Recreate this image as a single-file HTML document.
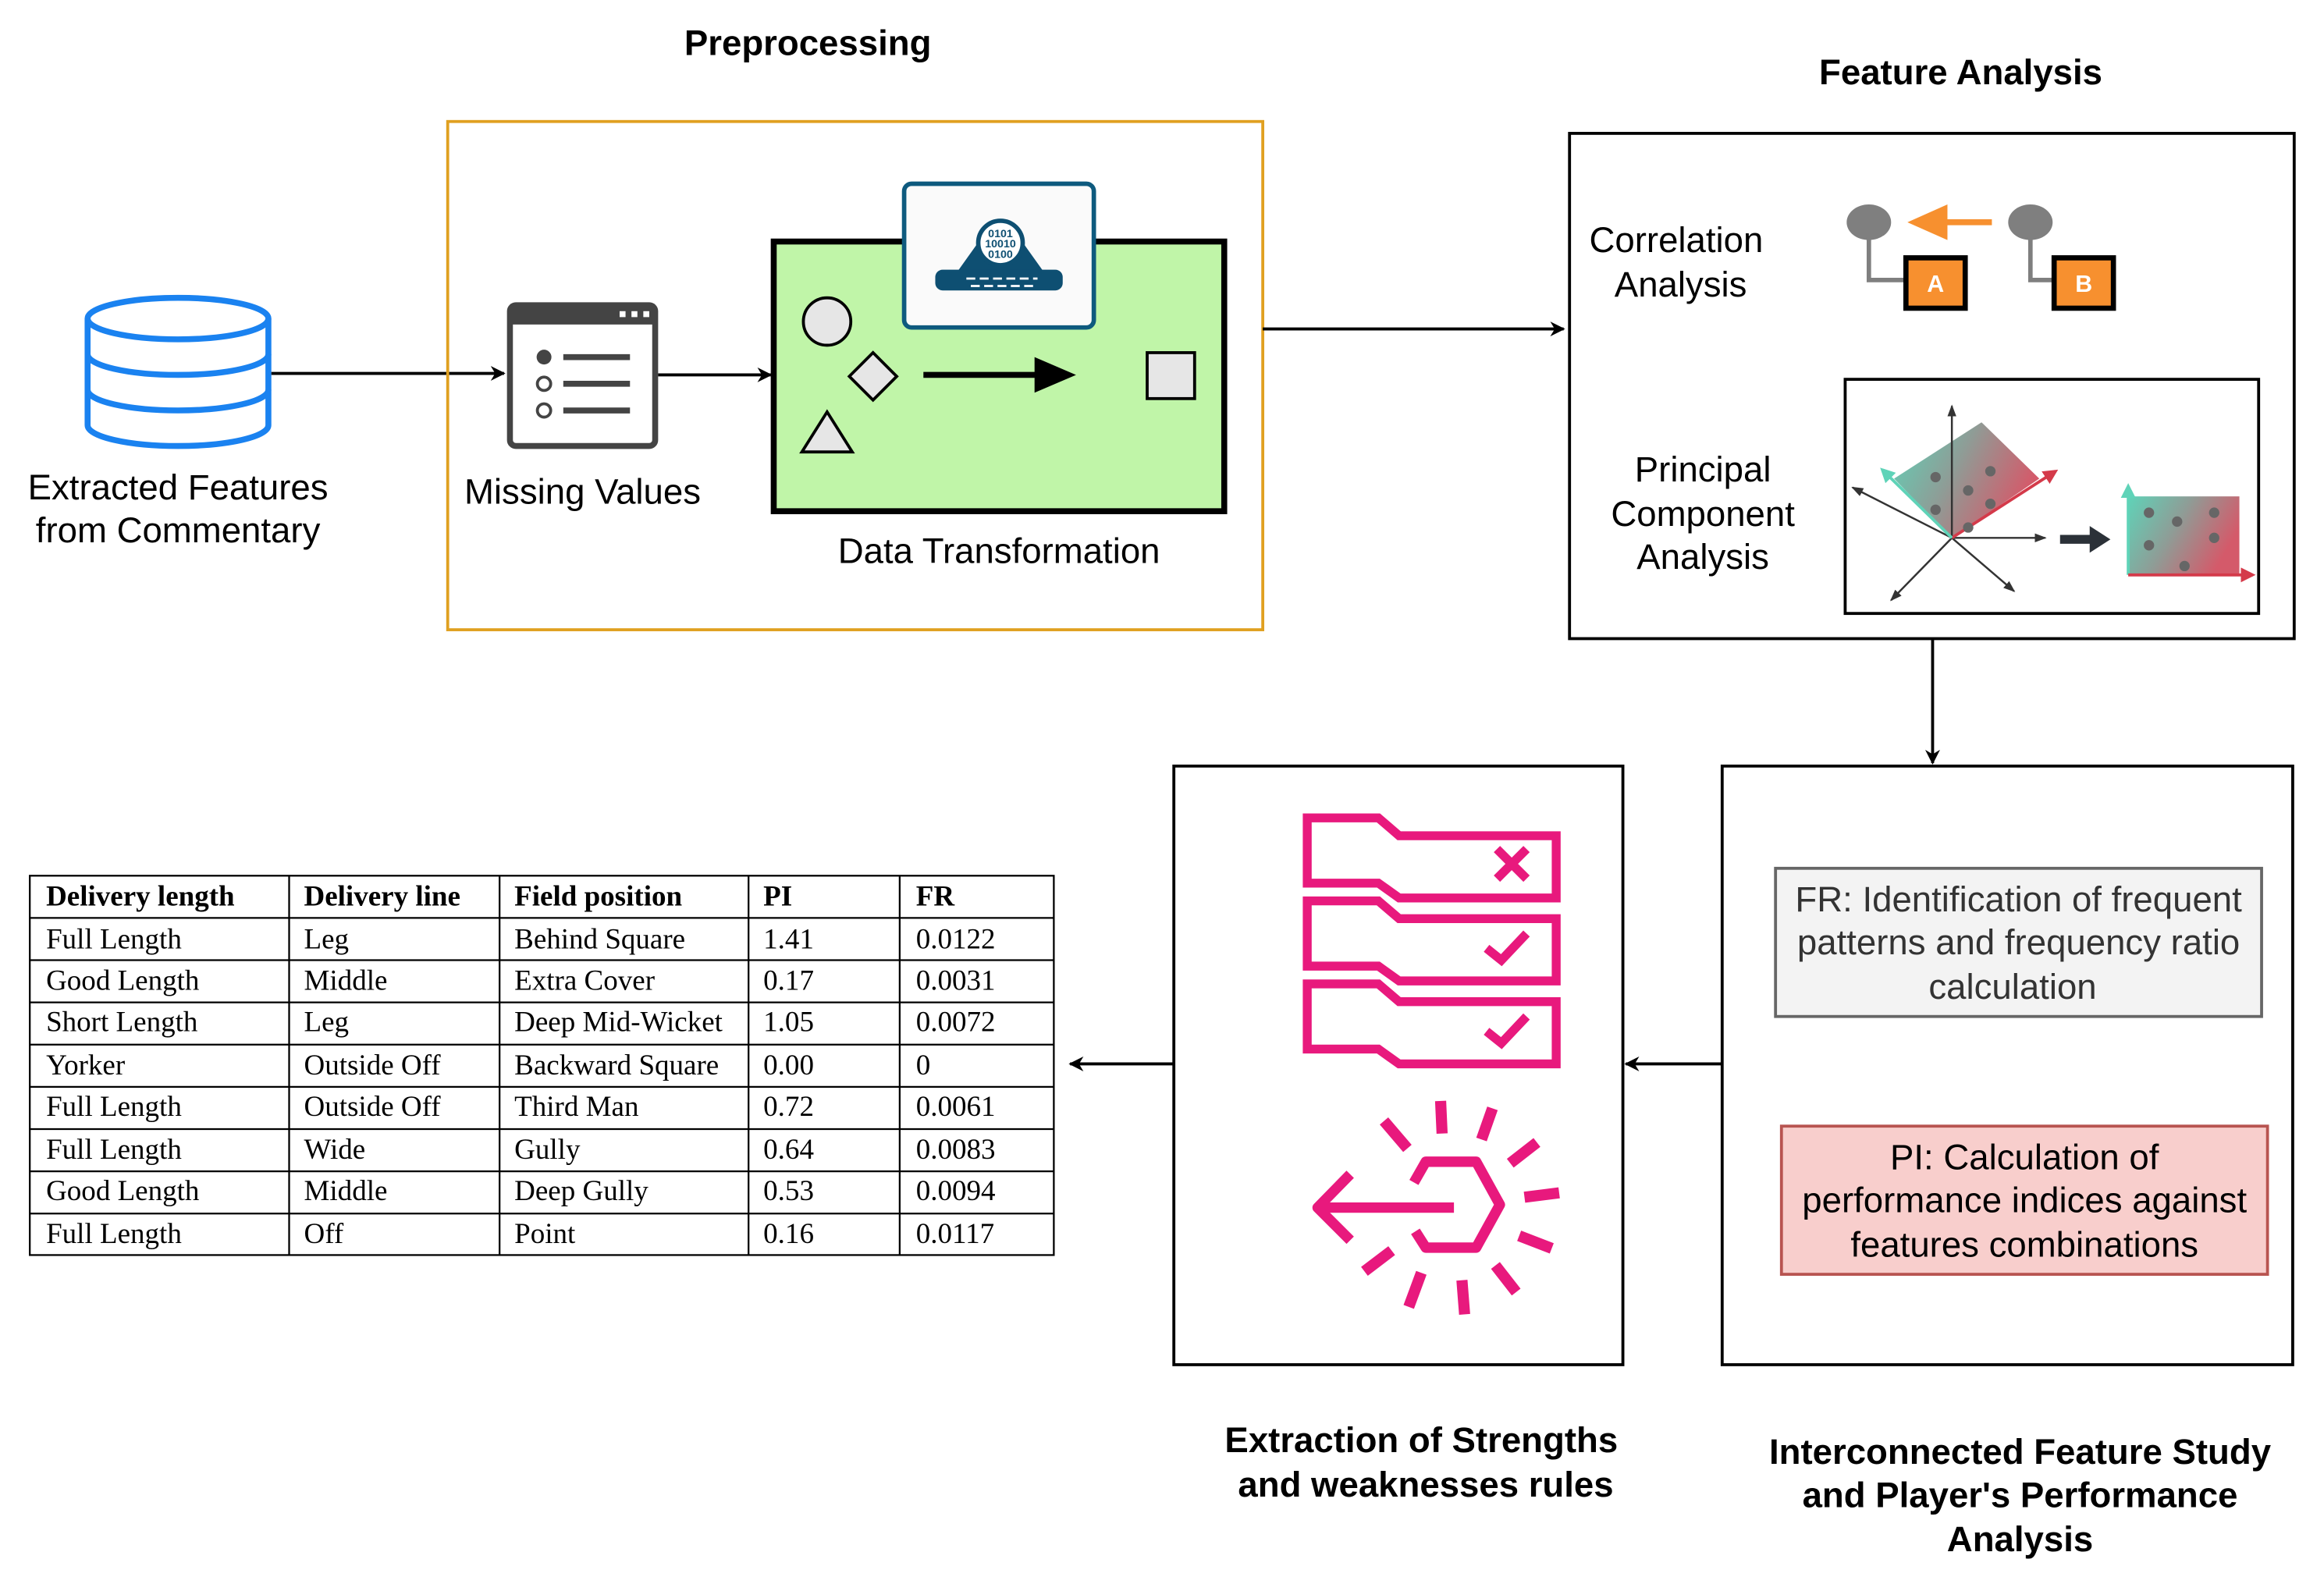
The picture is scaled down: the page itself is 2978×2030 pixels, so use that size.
<!DOCTYPE html>
<html><head><meta charset="utf-8"><style>
html,body{margin:0;padding:0;background:#fff;}
svg{display:block;}
.s{font-family:"Liberation Sans",sans-serif;}
.r{font-family:"Liberation Serif",serif;font-size:19.5px;}
.b{font-weight:bold;}
</style></head><body>
<svg width="2978" height="2030" viewBox="0 0 1568 1069" xmlns="http://www.w3.org/2000/svg">
<defs>
<marker id="ar" markerWidth="10" markerHeight="10" refX="9" refY="5" orient="auto" markerUnits="userSpaceOnUse"><path d="M0,0 L10,5 L0,10 L3,5 Z" fill="#000"/></marker>
<marker id="sa" markerWidth="8" markerHeight="8" refX="7" refY="4" orient="auto" markerUnits="userSpaceOnUse"><path d="M0,1 L8,4 L0,7 Z" fill="#333"/></marker>
<marker id="ga" markerWidth="10" markerHeight="10" refX="8" refY="5" orient="auto" markerUnits="userSpaceOnUse"><path d="M0,0 L10,5 L0,10 Z" fill="#5fd3b8"/></marker>
<marker id="ra" markerWidth="10" markerHeight="10" refX="8" refY="5" orient="auto" markerUnits="userSpaceOnUse"><path d="M0,0 L10,5 L0,10 Z" fill="#d43a4a"/></marker>
<linearGradient id="g1" x1="0" y1="0" x2="1" y2="0.4"><stop offset="0" stop-color="#5fd3b8"/><stop offset="0.5" stop-color="#8f9c96"/><stop offset="1" stop-color="#d45a6a"/></linearGradient>
</defs>
<rect width="1568" height="1069" fill="#fff"/>

<text x="545" y="37" text-anchor="middle" class="s b" font-size="24">Preprocessing</text>
<text x="1323" y="57" text-anchor="middle" class="s b" font-size="24">Feature Analysis</text>

<g fill="none" stroke="#1a82f0" stroke-width="4">
<ellipse cx="120" cy="215" rx="61" ry="14"/>
<path d="M59,215 V287 A61,14 0 0 0 181,287 V215"/>
<path d="M59,239 A61,14 0 0 0 181,239"/>
<path d="M59,263 A61,14 0 0 0 181,263"/>
</g>
<text x="120" y="337" text-anchor="middle" class="s" font-size="24">Extracted Features</text>
<text x="120" y="366" text-anchor="middle" class="s" font-size="24">from Commentary</text>
<path d="M183,252 H340" stroke="#000" stroke-width="2" marker-end="url(#ar)"/>

<rect x="302" y="82" width="550" height="343" fill="none" stroke="#e0a020" stroke-width="2"/>
<rect x="344" y="206" width="98" height="95" rx="4" fill="#fff" stroke="#444" stroke-width="4"/>
<rect x="344" y="206" width="98" height="13" fill="#444"/>
<g fill="#fff"><rect x="418" y="210" width="4" height="4"/><rect x="426" y="210" width="4" height="4"/><rect x="434" y="210" width="4" height="4"/></g>
<circle cx="367" cy="241" r="5" fill="#444"/><circle cx="367" cy="259" r="4.5" fill="none" stroke="#444" stroke-width="2"/><circle cx="367" cy="277" r="4.5" fill="none" stroke="#444" stroke-width="2"/>
<g stroke="#444" stroke-width="4"><path d="M380,241 H425"/><path d="M380,259 H425"/><path d="M380,277 H425"/></g>
<text x="393" y="340" text-anchor="middle" class="s" font-size="24">Missing Values</text>
<path d="M444,253 H520" stroke="#000" stroke-width="2" marker-end="url(#ar)"/>

<rect x="522" y="163" width="304" height="182" fill="#c0f5a8" stroke="#000" stroke-width="4"/>
<rect x="610" y="124" width="128" height="97" rx="5" fill="#fafafa" stroke="#0e5a7e" stroke-width="3"/>
<path d="M644,186 L664,158 L686,158 L706,186 Z" fill="#0e4f72"/>
<rect x="631" y="182" width="86" height="14" rx="5" fill="#0e4f72"/>
<circle cx="675" cy="164" r="15" fill="#fff" stroke="#0e4f72" stroke-width="3"/>
<text x="675" y="160" text-anchor="middle" font-size="7.5" class="s b" fill="#0e4f72">0101</text>
<text x="675" y="167" text-anchor="middle" font-size="7.5" class="s b" fill="#0e4f72">10010</text>
<text x="675" y="174" text-anchor="middle" font-size="7.5" class="s b" fill="#0e4f72">0100</text>
<path d="M652,188 H700 M655,193 H698" stroke="#fff" stroke-width="1.5" stroke-dasharray="6,3"/>
<circle cx="558" cy="217" r="16" fill="#e6e6e6" stroke="#000" stroke-width="2"/>
<path d="M589,238 L605,254 L589,270 L573,254 Z" fill="#e6e6e6" stroke="#000" stroke-width="2"/>
<path d="M558,278 L575,305 L541,305 Z" fill="#e6e6e6" stroke="#000" stroke-width="2"/>
<path d="M623,253 H700" stroke="#000" stroke-width="4"/>
<path d="M698,241 L726,253 L698,265 Z" fill="#000"/>
<rect x="774" y="238" width="32" height="31" fill="#e6e6e6" stroke="#000" stroke-width="2"/>
<text x="674" y="380" text-anchor="middle" class="s" font-size="24">Data Transformation</text>
<path d="M852,222 H1055" stroke="#000" stroke-width="2" marker-end="url(#ar)"/>

<rect x="1059" y="90" width="489" height="341" fill="none" stroke="#000" stroke-width="2"/>
<text x="1131" y="170" text-anchor="middle" class="s" font-size="24">Correlation</text>
<text x="1134" y="200" text-anchor="middle" class="s" font-size="24">Analysis</text>
<ellipse cx="1261" cy="150" rx="15" ry="12" fill="#7f7f7f"/>
<ellipse cx="1370" cy="150" rx="15" ry="12" fill="#7f7f7f"/>
<path d="M1261,160 V189 H1288 M1370,160 V189 H1390" fill="none" stroke="#7f7f7f" stroke-width="3"/>
<path d="M1305,150 H1344" stroke="#f7902f" stroke-width="4"/>
<path d="M1287,150 L1314,138 L1314,162 Z" fill="#f7902f"/>
<rect x="1286" y="174" width="40" height="34" fill="#f7902f" stroke="#000" stroke-width="3.5"/>
<rect x="1386" y="174" width="40" height="34" fill="#f7902f" stroke="#000" stroke-width="3.5"/>
<text x="1306" y="197" text-anchor="middle" class="s b" font-size="16" fill="#fff">A</text>
<text x="1406" y="197" text-anchor="middle" class="s b" font-size="16" fill="#fff">B</text>
<text x="1149" y="325" text-anchor="middle" class="s" font-size="24">Principal</text>
<text x="1149" y="355" text-anchor="middle" class="s" font-size="24">Component</text>
<text x="1149" y="384" text-anchor="middle" class="s" font-size="24">Analysis</text>
<rect x="1245" y="256" width="279" height="158" fill="none" stroke="#000" stroke-width="2"/>
<path d="M1278,323 L1337,285 L1376,323 L1317,363 Z" fill="url(#g1)"/>
<g stroke="#333" stroke-width="1.3" fill="none">
<path d="M1317,363 V274" marker-end="url(#sa)"/>
<path d="M1317,363 H1380" marker-end="url(#sa)"/>
<path d="M1317,363 L1250,329" marker-end="url(#sa)"/>
<path d="M1317,363 L1276,405" marker-end="url(#sa)"/>
<path d="M1317,363 L1359,399" marker-end="url(#sa)"/>
</g>
<path d="M1317,363 L1387,318" stroke="#d43a4a" stroke-width="2" marker-end="url(#ra)"/>
<path d="M1317,363 L1270,317" stroke="#5fd3b8" stroke-width="2" marker-end="url(#ga)"/>
<g fill="#666"><circle cx="1306" cy="322" r="3.5"/><circle cx="1306" cy="344" r="3.5"/><circle cx="1328" cy="331" r="3.5"/><circle cx="1343" cy="318" r="3.5"/><circle cx="1343" cy="340" r="3.5"/><circle cx="1328" cy="356" r="3.5"/></g>
<path d="M1390,364 H1412" stroke="#2b3138" stroke-width="6"/>
<path d="M1410,355 L1424,364 L1410,373 Z" fill="#2b3138"/>
<rect x="1436" y="335" width="75" height="53" fill="url(#g1)"/>
<path d="M1436,388 V328" stroke="#5fd3b8" stroke-width="2" marker-end="url(#ga)"/>
<path d="M1436,388 H1520" stroke="#d43a4a" stroke-width="2" marker-end="url(#ra)"/>
<g fill="#666"><circle cx="1450" cy="346" r="3.5"/><circle cx="1469" cy="352" r="3.5"/><circle cx="1494" cy="346" r="3.5"/><circle cx="1450" cy="368" r="3.5"/><circle cx="1494" cy="363" r="3.5"/><circle cx="1474" cy="382" r="3.5"/></g>
<path d="M1304,431 V515" stroke="#000" stroke-width="2" marker-end="url(#ar)"/>

<rect x="1162" y="517" width="385" height="404" fill="none" stroke="#000" stroke-width="2"/>
<rect x="1198" y="586" width="328" height="100" fill="#f3f3f3" stroke="#666" stroke-width="2"/>
<text x="1362" y="615" text-anchor="middle" class="s" font-size="24" fill="#333">FR: Identification of frequent</text>
<text x="1362" y="644" text-anchor="middle" class="s" font-size="24" fill="#333">patterns and frequency ratio</text>
<text x="1358" y="674" text-anchor="middle" class="s" font-size="24" fill="#333">calculation</text>
<rect x="1202" y="760" width="328" height="100" fill="#f8cecc" stroke="#b85450" stroke-width="2"/>
<text x="1366" y="789" text-anchor="middle" class="s" font-size="24">PI: Calculation of</text>
<text x="1366" y="818" text-anchor="middle" class="s" font-size="24">performance indices against</text>
<text x="1366" y="848" text-anchor="middle" class="s" font-size="24">features combinations</text>
<text x="1363" y="988" text-anchor="middle" class="s b" font-size="24">Interconnected Feature Study</text>
<text x="1363" y="1017" text-anchor="middle" class="s b" font-size="24">and Player's Performance</text>
<text x="1363" y="1047" text-anchor="middle" class="s b" font-size="24">Analysis</text>
<path d="M1162,718 H1097" stroke="#000" stroke-width="2" marker-end="url(#ar)"/>

<rect x="792" y="517" width="303" height="404" fill="none" stroke="#000" stroke-width="2"/>
<g fill="none" stroke="#e8197d" stroke-width="6" stroke-linejoin="miter">
<path d="M882,552 H930 L944,564 H1050 V606 H944 L930,596 H882 Z"/>
<path d="M882,608 H930 L944,620 H1050 V662 H944 L930,652 H882 Z"/>
<path d="M882,664 H930 L944,676 H1050 V718 H944 L930,708 H882 Z"/>
<path d="M1010,573 L1030,593 M1030,573 L1010,593"/>
<path d="M1003,640 L1013,648 L1030,630"/>
<path d="M1003,696 L1013,704 L1030,686"/>
</g>
<g fill="none" stroke="#e8197d" stroke-width="7" stroke-linejoin="round">
<path d="M954,798 L962,784 H996 L1012,813 L996,842 H962 L955,831"/>
<path d="M981,815 H890"/>
<path d="M911,792.5 L889,815 L911,837"/>
</g>
<g fill="none" stroke="#e8197d" stroke-width="7.5">
<path d="M972,743 L973,765 M1007,748 L999.6,769 M1037,771 L1019,785 M1052,805 L1028.6,808 M1025,834 L1047,842.5 M1009,854 L1023,872 M986.4,864 L988.2,887 M959,859 L950.5,882 M939,844 L920.6,858 M933.8,756.5 L949.6,775"/>
</g>
<text x="959" y="980" text-anchor="middle" class="s b" font-size="24">Extraction of Strengths</text>
<text x="962" y="1010" text-anchor="middle" class="s b" font-size="24">and weaknesses rules</text>
<path d="M792,718 H722" stroke="#000" stroke-width="2" marker-end="url(#ar)"/>

<g stroke="#000" stroke-width="1.2" fill="none">
<rect x="20" y="591" width="691" height="256"/>
<path d="M195,591 V847 M337,591 V847 M505,591 V847 M607,591 V847"/>
<path d="M20,619.5 H711 M20,648 H711 M20,676.5 H711 M20,705 H711 M20,733.5 H711 M20,762 H711 M20,790.5 H711 M20,819 H711"/>
</g>
<g class="r">
<text x="31" y="611" class="b">Delivery length</text><text x="205" y="611" class="b">Delivery line</text><text x="347" y="611" class="b">Field position</text><text x="515" y="611" class="b">PI</text><text x="618" y="611" class="b">FR</text>
<text x="31" y="640">Full Length</text><text x="205" y="640">Leg</text><text x="347" y="640">Behind Square</text><text x="515" y="640">1.41</text><text x="618" y="640">0.0122</text>
<text x="31" y="668">Good Length</text><text x="205" y="668">Middle</text><text x="347" y="668">Extra Cover</text><text x="515" y="668">0.17</text><text x="618" y="668">0.0031</text>
<text x="31" y="696">Short Length</text><text x="205" y="696">Leg</text><text x="347" y="696">Deep Mid-Wicket</text><text x="515" y="696">1.05</text><text x="618" y="696">0.0072</text>
<text x="31" y="725">Yorker</text><text x="205" y="725">Outside Off</text><text x="347" y="725">Backward Square</text><text x="515" y="725">0.00</text><text x="618" y="725">0</text>
<text x="31" y="753">Full Length</text><text x="205" y="753">Outside Off</text><text x="347" y="753">Third Man</text><text x="515" y="753">0.72</text><text x="618" y="753">0.0061</text>
<text x="31" y="782">Full Length</text><text x="205" y="782">Wide</text><text x="347" y="782">Gully</text><text x="515" y="782">0.64</text><text x="618" y="782">0.0083</text>
<text x="31" y="810">Good Length</text><text x="205" y="810">Middle</text><text x="347" y="810">Deep Gully</text><text x="515" y="810">0.53</text><text x="618" y="810">0.0094</text>
<text x="31" y="839">Full Length</text><text x="205" y="839">Off</text><text x="347" y="839">Point</text><text x="515" y="839">0.16</text><text x="618" y="839">0.0117</text>
</g>
</svg>
</body></html>
